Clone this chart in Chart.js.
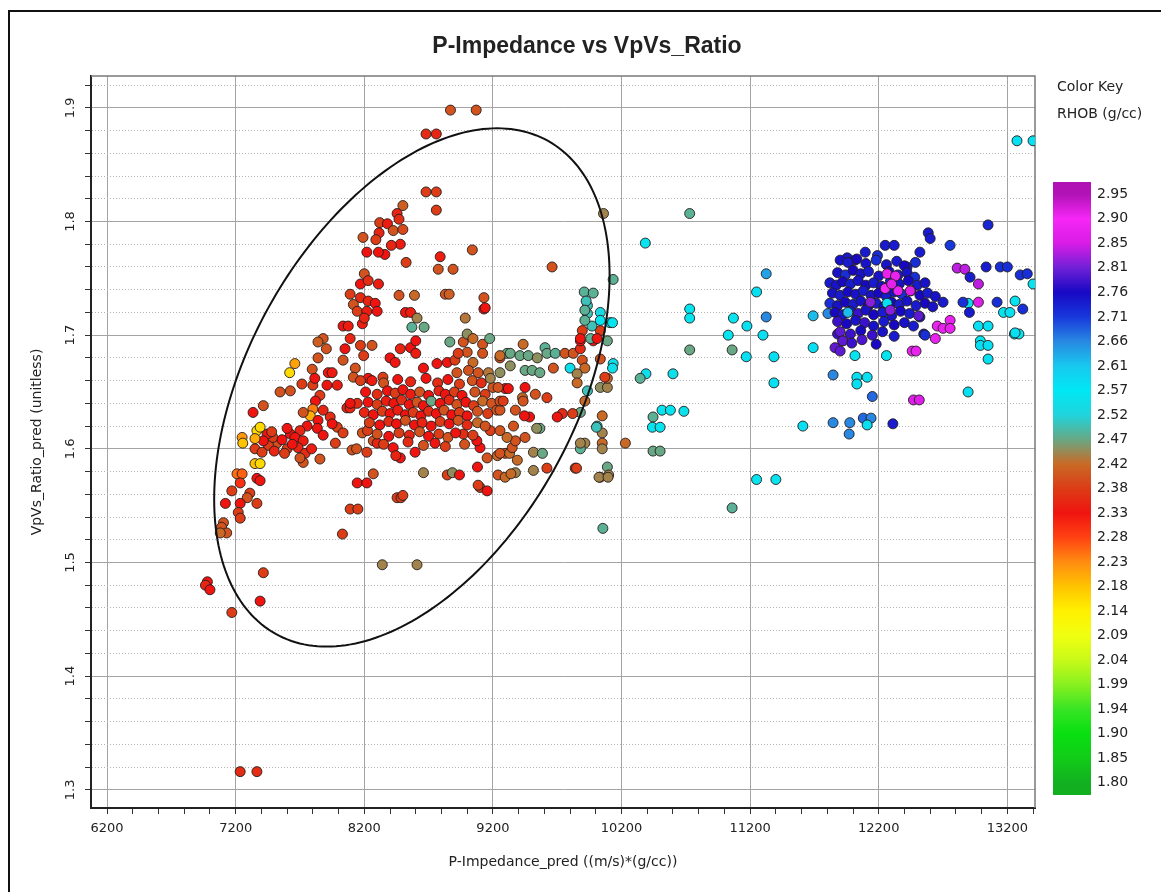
<!DOCTYPE html>
<html>
<head>
<meta charset="utf-8">
<title>P-Impedance vs VpVs_Ratio</title>
<script src="https://cdn.jsdelivr.net/npm/chart.js@4.4.1/dist/chart.umd.min.js"></script>
<style>
  html, body { margin: 0; padding: 0; background: #fff; overflow: hidden; }
  #frame { position: absolute; left: 8px; top: 10px; right: 0; bottom: 0;
           border-top: 2px solid #111; border-left: 2px solid #111; pointer-events: none; }
  canvas { position: absolute; left: 0; top: 0; }
</style>
</head>
<body>
<canvas id="crossplot" width="1161" height="892"></canvas>
<div id="frame"></div>
<script>
// Samples are [P-Impedance, VpVs ratio, RHOB]
const leftCloud = [
  [7880,1.697,2.40],[7840,1.694,2.41],[7905,1.688,2.40],[7840,1.680,2.40],[7660,1.675,2.21],[7620,1.667,2.16],
  [7795,1.670,2.40],[7920,1.667,2.33],[7950,1.667,2.34],[7800,1.656,2.38],[7715,1.657,2.38],[7815,1.662,2.33],
  [7910,1.656,2.33],[7990,1.656,2.34],[7855,1.647,2.38],[7545,1.650,2.40],[7625,1.651,2.40],[7820,1.642,2.33],
  [7800,1.635,2.24],[7780,1.629,2.20],[7725,1.632,2.40],[7880,1.634,2.35],[7840,1.625,2.33],[7935,1.628,2.36],
  [7990,1.619,2.38],[7950,1.622,2.33],[7835,1.618,2.33],[7880,1.612,2.33],[7755,1.620,2.33],[7700,1.616,2.35],
  [7625,1.613,2.33],[7600,1.618,2.33],[7660,1.610,2.33],[7725,1.607,2.34],[7685,1.601,2.35],[7740,1.596,2.36],
  [7790,1.600,2.34],[7855,1.591,2.40],[7725,1.588,2.40],[7600,1.600,2.38],[7520,1.605,2.40],[7455,1.603,2.38],
  [7490,1.610,2.38],[7445,1.613,2.33],[7415,1.607,2.33],[7350,1.600,2.38],[7405,1.597,2.38],[7365,1.616,2.16],
  [7390,1.619,2.16],[7350,1.609,2.20],[7250,1.610,2.22],[7255,1.605,2.18],[7335,1.632,2.33],[7415,1.638,2.40],
  [7350,1.587,2.18],[7390,1.587,2.16],[7480,1.615,2.38],[7560,1.608,2.33],[7500,1.598,2.35],[7580,1.596,2.38],
  [7640,1.604,2.33],[7700,1.592,2.40],[7975,1.605,2.38],[8035,1.614,2.38]
];

const lowerScatter = [
  [7365,1.574,2.33],[7390,1.572,2.33],[7210,1.578,2.25],[7250,1.578,2.26],[7235,1.570,2.30],[7170,1.563,2.38],
  [7310,1.561,2.38],[7290,1.557,2.40],[7120,1.552,2.33],[7365,1.552,2.38],[7235,1.552,2.33],[7220,1.544,2.38],
  [7235,1.539,2.38],[7105,1.535,2.40],[7090,1.531,2.40],[7130,1.526,2.40],[7080,1.526,2.42],[7415,1.491,2.38],
  [6980,1.483,2.33],[6965,1.480,2.35],[7000,1.476,2.33],[7390,1.466,2.33],[7170,1.456,2.38],[7235,1.316,2.36],
  [7365,1.316,2.36],[8030,1.525,2.38],[8090,1.547,2.38],[8150,1.547,2.38],[8340,1.498,2.44],[8610,1.498,2.44],
  [8455,1.557,2.38],[8485,1.557,2.38],[8145,1.570,2.33],[8220,1.570,2.33],[8270,1.578,2.40],[8660,1.579,2.44],
  [8845,1.577,2.38],[8885,1.579,2.45],[8940,1.577,2.33],[9080,1.584,2.33],[9100,1.566,2.38],[9155,1.563,2.33],
  [9085,1.568,2.38],[9240,1.577,2.40],[9295,1.575,2.42],[8500,1.559,2.38]
];

const upperCloud = [
  [8870,1.898,2.40],[9070,1.898,2.40],[8680,1.877,2.36],[8760,1.877,2.35],[8680,1.826,2.38],[8760,1.826,2.38],
  [8760,1.810,2.38],[8500,1.814,2.41],[8455,1.807,2.35],[8470,1.802,2.36],[8320,1.799,2.38],[8380,1.798,2.34],
  [8425,1.792,2.40],[8500,1.793,2.39],[8315,1.790,2.35],[8290,1.784,2.38],[8190,1.786,2.40],[8480,1.780,2.34],
  [8410,1.779,2.35],[8360,1.771,2.33],[8310,1.773,2.33],[8220,1.773,2.33],[8525,1.764,2.38],[8790,1.769,2.34],
  [9040,1.775,2.40],[8775,1.758,2.40],[8890,1.758,2.40],[8200,1.754,2.40],[8170,1.745,2.33],[8310,1.745,2.34],
  [8230,1.748,2.36],[8830,1.736,2.40],[8860,1.736,2.41],[8470,1.735,2.40],[8590,1.735,2.42],[8090,1.736,2.38],
  [8170,1.733,2.36],[8230,1.730,2.35],[8285,1.728,2.33],[8115,1.727,2.40],[8145,1.721,2.38],[8220,1.721,2.34],
  [8300,1.721,2.33],[9130,1.733,2.40],[9130,1.723,2.33],[8520,1.720,2.33],[8560,1.720,2.34],[8610,1.715,2.44],
  [8985,1.715,2.43],[8570,1.707,2.48],[8665,1.707,2.47],[8035,1.708,2.33],[8075,1.708,2.34],[8185,1.710,2.34],
  [8200,1.715,2.35],[9660,1.760,2.40],[9140,1.724,2.33]
];

const coreCloud = [
  [8090,1.697,2.35],[8050,1.688,2.33],[8170,1.691,2.38],[8260,1.691,2.40],[8195,1.682,2.38],[8035,1.678,2.40],
  [8130,1.671,2.40],[8115,1.663,2.40],[8230,1.662,2.33],[8345,1.663,2.38],[8400,1.680,2.33],[8480,1.688,2.35],
  [8560,1.689,2.33],[8600,1.695,2.33],[8600,1.684,2.34],[8660,1.671,2.33],[8440,1.676,2.33],[8765,1.675,2.33],
  [8845,1.676,2.33],[8905,1.678,2.38],[8865,1.694,2.47],[8970,1.694,2.40],[9000,1.701,2.45],[9045,1.697,2.42],
  [9120,1.692,2.40],[9175,1.697,2.47],[9120,1.684,2.40],[9000,1.685,2.40],[8930,1.684,2.38],[9045,1.676,2.42],
  [8920,1.667,2.40],[9010,1.669,2.40],[9085,1.667,2.40],[9255,1.680,2.40],[9310,1.684,2.47],[9165,1.667,2.43],
  [9255,1.667,2.45],[9200,1.654,2.40],[9295,1.653,2.33],[8170,1.660,2.38],[8065,1.636,2.35],[8090,1.636,2.35],
  [8145,1.640,2.36],[8090,1.640,2.33],[8220,1.597,2.38],[8105,1.599,2.40],[8140,1.600,2.40],[8270,1.607,2.40],
  [8185,1.614,2.40],[8225,1.616,2.38],[8300,1.605,2.35],[8595,1.597,2.33],[8425,1.601,2.33],[8480,1.592,2.33],
  [8445,1.594,2.35],[9100,1.601,2.33],[9075,1.607,2.33],[8970,1.613,2.36],[9045,1.612,2.38],[9180,1.616,2.38],
  [9255,1.616,2.40],[9295,1.596,2.40],[9155,1.592,2.40],[9235,1.594,2.42],
  [8260,1.660,2.34],[8350,1.658,2.40],[8460,1.661,2.33],[8560,1.659,2.35],[8680,1.662,2.33],[8770,1.658,2.36],
  [8850,1.661,2.33],[8940,1.657,2.38],[9040,1.660,2.40],[9110,1.658,2.36],[9180,1.662,2.44],
  [8210,1.650,2.33],[8300,1.648,2.36],[8380,1.651,2.33],[8440,1.649,2.38],[8500,1.652,2.33],[8560,1.648,2.34],
  [8630,1.650,2.40],[8700,1.647,2.33],[8780,1.651,2.35],[8830,1.648,2.33],[8900,1.650,2.38],[8960,1.647,2.33],
  [9060,1.650,2.40],[9140,1.648,2.38],
  [8230,1.641,2.33],[8300,1.639,2.38],[8370,1.642,2.34],[8430,1.640,2.33],[8490,1.643,2.36],[8550,1.639,2.33],
  [8610,1.641,2.40],[8660,1.638,2.33],[8720,1.642,2.47],[8790,1.640,2.33],[8860,1.643,2.35],[8920,1.639,2.40],
  [8990,1.641,2.33],[9050,1.638,2.38],[9120,1.642,2.42],[9190,1.640,2.40],
  [8200,1.632,2.35],[8270,1.630,2.33],[8340,1.633,2.38],[8400,1.631,2.33],[8460,1.634,2.34],[8520,1.630,2.33],
  [8580,1.632,2.38],[8640,1.629,2.33],[8700,1.633,2.36],[8760,1.631,2.33],[8820,1.634,2.40],[8880,1.630,2.33],
  [8940,1.632,2.38],[9000,1.629,2.33],[9080,1.633,2.40],[9160,1.631,2.38],[9230,1.634,2.40],
  [8240,1.623,2.38],[8320,1.621,2.33],[8390,1.624,2.36],[8450,1.622,2.33],[8520,1.625,2.40],[8590,1.621,2.33],
  [8650,1.623,2.35],[8720,1.620,2.33],[8790,1.624,2.38],[8860,1.622,2.33],[8930,1.625,2.40],[9000,1.621,2.36],
  [9080,1.623,2.42],[9140,1.620,2.40],
  [8300,1.613,2.40],[8390,1.611,2.33],[8470,1.614,2.38],[8550,1.612,2.35],[8630,1.615,2.40],[8700,1.611,2.33],
  [8780,1.613,2.38],[8850,1.610,2.40],[8910,1.614,2.33],
  [8350,1.604,2.38],[8540,1.606,2.36],[8660,1.603,2.40],[8750,1.605,2.33],[8830,1.602,2.38],[8980,1.604,2.40]
];

const transitionZone = [
  [9435,1.692,2.42],[9255,1.682,2.42],[9335,1.684,2.47],[9410,1.682,2.47],[9475,1.682,2.47],[9545,1.680,2.45],
  [9605,1.689,2.48],[9620,1.684,2.47],[9685,1.684,2.48],[9760,1.684,2.40],[9825,1.684,2.40],[9880,1.688,2.36],
  [9880,1.695,2.33],[9980,1.695,2.33],[10035,1.704,2.38],[9935,1.719,2.50],[9935,1.726,2.50],[10035,1.720,2.53],
  [10110,1.711,2.58],[9970,1.708,2.50],[10090,1.695,2.47],[10035,1.679,2.40],[9895,1.678,2.40],[10135,1.675,2.55],
  [10130,1.671,2.55],[9800,1.671,2.55],[9915,1.671,2.42],[9855,1.666,2.44],[9670,1.671,2.40],[9450,1.669,2.47],
  [9505,1.669,2.47],[9565,1.667,2.47],[9335,1.673,2.45],[9855,1.658,2.42],[9935,1.651,2.50],[9915,1.642,2.42],
  [10035,1.654,2.45],[10090,1.654,2.44],[10090,1.662,2.42],[10070,1.663,2.38],[9880,1.632,2.47],[9820,1.631,2.38],
  [9740,1.631,2.36],[9700,1.628,2.33],[10050,1.629,2.42],[10010,1.620,2.50],[10050,1.614,2.44],[9915,1.605,2.44],
  [9880,1.600,2.48],[10050,1.605,2.42],[10230,1.605,2.42],[10090,1.584,2.47],[10100,1.577,2.44],[10035,1.575,2.42],
  [9840,1.583,2.40],[9620,1.583,2.38],[9515,1.581,2.44],[9375,1.579,2.44],[9340,1.578,2.42],[9515,1.597,2.44],
  [9585,1.596,2.47],[9390,1.590,2.42],[9255,1.596,2.40],[9330,1.596,2.42],[9350,1.601,2.40],[9375,1.607,2.40],
  [9450,1.610,2.40],[9310,1.610,2.42],[9565,1.618,2.47],[9540,1.618,2.45],[9485,1.628,2.33],[9445,1.629,2.33],
  [9375,1.634,2.40],[9360,1.620,2.40],[9255,1.634,2.40],[9255,1.642,2.40],[9280,1.642,2.38],[9320,1.653,2.33],
  [9430,1.645,2.42],[9435,1.642,2.40],[9530,1.648,2.40],[9620,1.645,2.38],[9450,1.654,2.33],[9240,1.654,2.40],
  [9850,1.583,2.38],[10025,1.575,2.44],[10095,1.575,2.44],[10005,1.619,2.50],[10050,1.600,2.44],[10055,1.530,2.48],
  [9880,1.605,2.44],[10060,1.807,2.44],[9910,1.738,2.48],[9980,1.737,2.48],[9925,1.730,2.50],[9915,1.722,2.48],
  [10035,1.713,2.56],[10130,1.711,2.56],[9915,1.713,2.48],[10135,1.749,2.48],[9895,1.704,2.38],[9880,1.697,2.33],
  [9960,1.697,2.48],[10010,1.697,2.33]
];

const cyanScatter = [
  [10730,1.807,2.48],[10385,1.781,2.56],[10730,1.723,2.56],[10730,1.715,2.56],[10730,1.687,2.47],[10390,1.666,2.55],
  [10345,1.662,2.48],[10600,1.666,2.55],[10515,1.634,2.56],[10580,1.634,2.56],[10685,1.633,2.55],[10445,1.628,2.48],
  [10440,1.619,2.56],[10500,1.619,2.56],[10445,1.598,2.47],[10500,1.598,2.47],[11060,1.548,2.48],[11250,1.573,2.56],
  [11400,1.573,2.56],[11060,1.687,2.47],[11030,1.700,2.56],[11070,1.715,2.56],[11175,1.708,2.58],[11300,1.700,2.58],
  [11170,1.681,2.58],[11250,1.738,2.58],[11325,1.754,2.64],[11325,1.716,2.66],[11385,1.681,2.58],[11385,1.658,2.58],
  [11690,1.689,2.58],[11845,1.665,2.66],[12030,1.663,2.58],[12110,1.663,2.58],[12030,1.657,2.58],[12015,1.682,2.56],
  [12260,1.682,2.56],[12150,1.646,2.68],[11610,1.620,2.58],[11845,1.623,2.66],[11975,1.623,2.66],[11970,1.613,2.66],
  [12080,1.627,2.68],[12140,1.627,2.66],[12110,1.621,2.58],[12310,1.622,2.74],[12895,1.650,2.58],[12990,1.695,2.56],
  [12990,1.691,2.58],[13050,1.691,2.58],[13050,1.679,2.58],[13255,1.701,2.58],[13290,1.701,2.56],[13275,1.871,2.58],
  [13400,1.871,2.58],[11690,1.717,2.62],[11805,1.719,2.66],[12895,1.728,2.58],[13170,1.720,2.56],[13260,1.730,2.56],
  [13220,1.720,2.58],[12975,1.708,2.58],[13050,1.708,2.58],[13260,1.702,2.58],[13400,1.745,2.56]
];

const blueCluster = [
  [13050,1.797,2.73],[12585,1.790,2.74],[12600,1.785,2.74],[12250,1.779,2.74],[12320,1.779,2.74],[12755,1.779,2.71],
  [12095,1.773,2.74],[11955,1.768,2.74],[12015,1.766,2.74],[12190,1.770,2.72],[12520,1.773,2.74],[12485,1.764,2.72],
  [12420,1.760,2.74],[13035,1.760,2.74],[13145,1.760,2.72],[13200,1.760,2.72],[13300,1.753,2.72],[13355,1.754,2.72],
  [12550,1.701,2.74],[11880,1.701,2.78],[11920,1.695,2.78],[11860,1.689,2.80],[11900,1.686,2.80],
  [11900,1.766,2.75],[11960,1.764,2.74],[12030,1.767,2.76],[12100,1.763,2.75],[12180,1.766,2.72],[12260,1.762,2.75],
  [12340,1.765,2.74],[12400,1.761,2.76],
  [11880,1.755,2.75],[11940,1.753,2.72],[12000,1.757,2.76],[12060,1.754,2.75],[12120,1.756,2.74],[12200,1.752,2.75],
  [12280,1.756,2.76],[12350,1.753,2.74],[12420,1.755,2.75],[12480,1.751,2.72],
  [11820,1.746,2.74],[11870,1.744,2.75],[11920,1.747,2.76],[11980,1.745,2.74],[12040,1.748,2.75],[12100,1.744,2.76],
  [12160,1.746,2.74],[12220,1.743,2.75],[12290,1.747,2.72],[12360,1.745,2.75],[12430,1.748,2.76],[12500,1.744,2.74],
  [12560,1.746,2.75],
  [11840,1.737,2.75],[11900,1.735,2.74],[11960,1.738,2.76],[12020,1.736,2.75],[12080,1.739,2.74],[12140,1.735,2.75],
  [12200,1.737,2.76],[12260,1.734,2.74],[12320,1.738,2.75],[12380,1.736,2.72],[12450,1.739,2.75],[12520,1.735,2.76],
  [12580,1.737,2.74],[12640,1.734,2.75],
  [11820,1.728,2.72],[11880,1.726,2.75],[11940,1.729,2.76],[12000,1.727,2.74],[12060,1.730,2.75],[12120,1.726,2.76],
  [12180,1.728,2.74],[12240,1.725,2.75],[12300,1.729,2.76],[12360,1.727,2.74],[12420,1.730,2.75],[12490,1.726,2.74],
  [12560,1.728,2.76],[12620,1.725,2.75],[12700,1.729,2.74],
  [11860,1.720,2.76],[11920,1.718,2.75],[11980,1.721,2.74],[12040,1.719,2.78],[12100,1.722,2.75],[12160,1.718,2.76],
  [12230,1.720,2.74],[12300,1.717,2.75],[12370,1.721,2.76],[12440,1.719,2.74],[12520,1.716,2.75],
  [11880,1.712,2.78],[11950,1.710,2.76],[12020,1.713,2.75],[12090,1.711,2.78],[12160,1.708,2.75],[12240,1.712,2.74],
  [12320,1.709,2.76],[12400,1.711,2.75],[12470,1.708,2.74],
  [11900,1.703,2.80],[11980,1.701,2.78],[12060,1.704,2.76],[12150,1.700,2.78],[12230,1.703,2.75],[12320,1.699,2.74],
  [11920,1.695,2.80],[11990,1.693,2.78],[12070,1.696,2.79],[12180,1.692,2.76],
  [11960,1.720,2.62],[12265,1.728,2.58],
  [12265,1.754,2.88],[12330,1.752,2.88],[12250,1.741,2.90],[12350,1.739,2.88],[12445,1.739,2.86],[12135,1.729,2.82],
  [12290,1.722,2.82],[12300,1.745,2.87]
];

const magentaScatter = [
  [12470,1.643,2.86],[12515,1.643,2.86],[12460,1.686,2.88],[12490,1.686,2.88],[12640,1.697,2.88],[12560,1.700,2.72],
  [12655,1.708,2.88],[12700,1.706,2.88],[12755,1.713,2.88],[12755,1.706,2.88],[12510,1.717,2.80],[12810,1.759,2.84],
  [12870,1.758,2.84],[12975,1.745,2.84],[12975,1.729,2.86],[12855,1.729,2.72],[12905,1.720,2.74],[12910,1.751,2.74],
  [13120,1.729,2.72],[13320,1.723,2.72]
];

// Colour key (RHOB, g/cc)
const keyValues = [1.80,1.85,1.90,1.94,1.99,2.04,2.09,2.14,2.18,2.23,2.28,2.33,2.38,
                   2.42,2.47,2.52,2.57,2.61,2.66,2.71,2.76,2.81,2.85,2.90,2.95];
const keyColors = ['#12b020','#12cc18','#08e010','#38e424','#88f020','#c8fa18','#f0ff10','#fff000','#ffc400',
                   '#ff8c10','#ff4212','#f01410','#dc3c16','#c86a26','#68a884','#20d4dc','#00e8f4','#18c8ee',
                   '#2888e2','#1838dc','#1808c4','#7020d6','#d81ce6','#f626f6','#b012b6'];

const xTickLabels = [6200, 7200, 8200, 9200, 10200, 11200, 12200, 13200];
const yTickLabels = [1.3, 1.4, 1.5, 1.6, 1.7, 1.8, 1.9];
const chartTitle = 'P-Impedance vs VpVs_Ratio';

// Outline drawn around the low-impedance trend (centre plus two conjugate semi-diameters)
const ellipseCenter = [8570, 1.654];
const ellipseAxisU = [663, 0.228];
const ellipseAxisV = [1387, 0];

function hexToRgb(h) {
  const n = parseInt(h.slice(1), 16);
  return [(n >> 16) & 255, (n >> 8) & 255, n & 255];
}

function rhobColor(v) {
  if (v <= keyValues[0]) return keyColors[0];
  const last = keyValues.length - 1;
  if (v >= keyValues[last]) return keyColors[last];
  let i = 0;
  while (v > keyValues[i + 1]) i++;
  const t = (v - keyValues[i]) / (keyValues[i + 1] - keyValues[i]);
  const a = hexToRgb(keyColors[i]), b = hexToRgb(keyColors[i + 1]);
  const c = a.map((ch, k) => Math.round(ch + (b[k] - ch) * t));
  return `rgb(${c[0]},${c[1]},${c[2]})`;
}

const samples = [].concat(leftCloud, lowerScatter, upperCloud, coreCloud, transitionZone,
                          cyanScatter, blueCluster, magentaScatter);

const isMajorY = v => yTickLabels.some(t => Math.abs(t - v) < 1e-6);
const isMajorX = v => xTickLabels.includes(Math.round(v));

const frameAndEllipse = {
  id: 'frameAndEllipse',
  beforeDatasetsDraw(chart) {
    const {ctx, chartArea: a} = chart;
    ctx.save();
    ctx.strokeStyle = '#7a7a7a';
    ctx.lineWidth = 1.5;
    ctx.beginPath();
    ctx.moveTo(a.left, a.top); ctx.lineTo(a.right, a.top); ctx.lineTo(a.right, a.bottom);
    ctx.stroke();
    ctx.restore();
  },
  afterDatasetsDraw(chart) {
    const {ctx, scales: {x, y}, chartArea: a} = chart;
    ctx.save();
    ctx.beginPath();
    ctx.rect(a.left, a.top, a.right - a.left, a.bottom - a.top);
    ctx.clip();
    ctx.strokeStyle = '#111';
    ctx.lineWidth = 2;
    ctx.beginPath();
    for (let k = 0; k <= 240; k++) {
      const t = k / 240 * Math.PI * 2;
      const px = x.getPixelForValue(ellipseCenter[0] + ellipseAxisU[0] * Math.cos(t) + ellipseAxisV[0] * Math.sin(t));
      const py = y.getPixelForValue(ellipseCenter[1] + ellipseAxisU[1] * Math.cos(t) + ellipseAxisV[1] * Math.sin(t));
      if (k === 0) ctx.moveTo(px, py); else ctx.lineTo(px, py);
    }
    ctx.closePath();
    ctx.stroke();
    ctx.restore();
  }
};

// Title, colour bar and its labels sit outside the plot area
const colorKey = {
  id: 'colorKey',
  afterDraw(chart) {
    const {ctx, chartArea: a} = chart;
    ctx.save();
    ctx.fillStyle = '#222';
    ctx.font = 'bold 23px "Liberation Sans"';
    ctx.textAlign = 'center';
    ctx.textBaseline = 'middle';
    ctx.fillText(chartTitle, (a.left + a.right) / 2 + 24, 47);

    const left = a.right + 18, width = 38;
    const top = a.top + 106, bottom = a.bottom - 13;
    const n = keyValues.length;
    const band = (bottom - top) / n;
    const grad = ctx.createLinearGradient(0, top, 0, bottom);
    grad.addColorStop(0, keyColors[n - 1]);
    for (let i = 0; i < n; i++) {
      grad.addColorStop((i + 0.5) / n, keyColors[n - 1 - i]);
    }
    grad.addColorStop(1, keyColors[0]);
    ctx.fillStyle = grad;
    ctx.fillRect(left, top, width, bottom - top);

    ctx.fillStyle = '#222';
    ctx.font = '14px "DejaVu Sans"';
    ctx.textAlign = 'left';
    ctx.fillText('Color Key', left + 4, a.top + 11);
    ctx.fillText('RHOB (g/cc)', left + 4, a.top + 38);
    for (let i = 0; i < n; i++) {
      ctx.fillText(keyValues[n - 1 - i].toFixed(2), left + width + 6, top + band * (i + 0.5));
    }
    ctx.restore();
  }
};

new Chart(document.getElementById('crossplot'), {
  type: 'scatter',
  data: {
    datasets: [{
      label: 'RHOB',
      data: samples.map(s => ({x: s[0], y: s[1]})),
      pointBackgroundColor: samples.map(s => rhobColor(s[2])),
      pointBorderColor: 'rgba(35,30,30,0.9)',
      pointBorderWidth: 1,
      pointRadius: 5,
      pointHoverRadius: 5
    }]
  },
  options: {
    responsive: false,
    animation: false,
    devicePixelRatio: 1,
    layout: { padding: { left: 10, right: 126, top: 76, bottom: 0 } },
    plugins: {
      legend: { display: false },
      tooltip: { enabled: false },
      title: { display: false }
    },
    scales: {
      x: {
        type: 'linear',
        min: 6075,
        max: 13415,
        afterFit(scale) { scale.height = 84; },
        ticks: {
          stepSize: 200,
          includeBounds: false,
          autoSkip: false,
          maxRotation: 0,
          padding: 7,
          color: '#222',
          font: { family: 'DejaVu Sans', size: 13 },
          callback: v => isMajorX(v) ? String(Math.round(v)) : ''
        },
        grid: {
          color: c => (c.tick && isMajorX(c.tick.value)) ? '#a4a4a4' : 'rgba(0,0,0,0)',
          lineWidth: 1,
          tickColor: '#333',
          tickWidth: 1,
          tickLength: 6
        },
        border: { display: true, color: '#222', width: 2 },
        title: {
          display: true,
          text: 'P-Impedance_pred ((m/s)*(g/cc))',
          color: '#222',
          font: { family: 'DejaVu Sans', size: 14 },
          padding: { top: 0, bottom: 21 }
        }
      },
      y: {
        type: 'linear',
        min: 1.284,
        max: 1.928,
        afterFit(scale) { scale.width = 81; },
        ticks: {
          stepSize: 0.02,
          includeBounds: false,
          autoSkip: false,
          minRotation: 90,
          maxRotation: 90,
          crossAlign: 'center',
          padding: 4,
          color: '#222',
          font: { family: 'DejaVu Sans', size: 13 },
          callback: v => isMajorY(v) ? v.toFixed(1) : ''
        },
        grid: {
          color: c => (c.tick && isMajorY(c.tick.value)) ? '#a4a4a4' : '#b4b4b4',
          lineWidth: 1,
          tickColor: '#333',
          tickWidth: 1,
          tickLength: 6
        },
        border: {
          display: true, color: '#222', width: 2,
          dash: c => (c.tick && !isMajorY(c.tick.value)) ? [1, 2] : []
        },
        title: {
          display: true,
          text: 'VpVs_Ratio_pred (unitless)',
          color: '#222',
          font: { family: 'DejaVu Sans', size: 14 },
          padding: { top: 19, bottom: 0 }
        }
      }
    }
  },
  plugins: [frameAndEllipse, colorKey]
});
</script>
</body>
</html>
